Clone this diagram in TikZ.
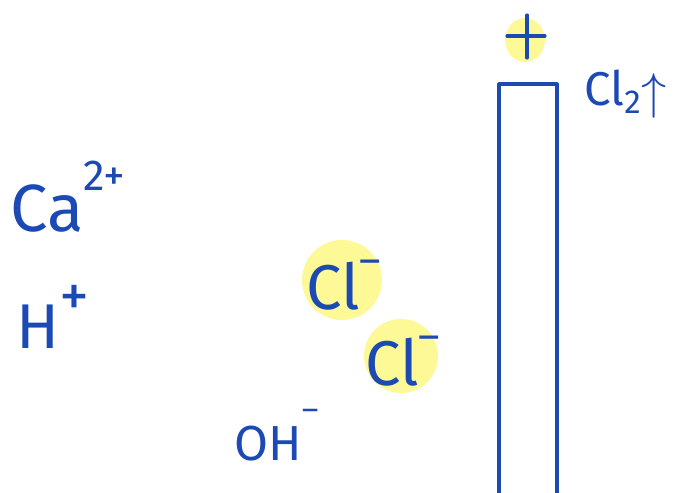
\documentclass[tikz,border=0pt]{standalone}
\usepackage{fontspec}
\setmainfont{Fira Sans}
\usetikzlibrary{positioning}
\definecolor{inkblue}{RGB}{28,74,180}
\definecolor{hilite}{RGB}{252,249,150}
\newcommand{\hoch}[3][0.65]{\raisebox{#2}{\scalebox{#1}{#3}}}
\tikzset{
  ion/.style={text=inkblue, inner sep=0pt},
  glow/.style={fill=hilite, draw=none},
  pen/.style={draw=inkblue, line width=1.8pt, line cap=round, line join=round}
}

\begin{document}
\begin{tikzpicture}[x=0.02cm, y=-0.02cm]
\useasboundingbox (0,0) rectangle (676,493);

% Electrodo (ánodo)
\draw[pen] (499,493) -- (499,84) -- (557,84) -- (557,493);
\fill[glow] (525,40) ellipse (20 and 22);
\coordinate (pl) at (507,36);
\coordinate (pr) at (545,36);
\coordinate (pt) at (527,15);
\coordinate (pb) at (527,58);
\draw[pen] (pl) -- (pr);
\draw[pen] (pt) -- (pb);
\node[ion, anchor=base west, font=\fontsize{27}{30}\selectfont] (gas) at (584,106) {Cl\textsubscript{2}\hoch[1.15]{-0.05em}{$\uparrow$}};

% Cationes
\node[ion, anchor=base west, font=\fontsize{38}{42}\selectfont] (ca) at (10,232) {Ca\hoch{0.62em}{2+}};
\node[ion, anchor=base west, font=\fontsize{36}{40}\selectfont] (h) at (16,348) {H\hoch[0.95]{0.5em}{+}};

% Aniones
\fill[glow] (342,280) circle (40);
\fill[glow] (401,356) circle (37);
\node[ion, anchor=base west, font=\fontsize{36}{40}\selectfont] (cla) at (306,309) {Cl\hoch{0.55em}{–}};
\node[ion, anchor=base west, font=\fontsize{36}{40}\selectfont] (clb) at (365,385) {Cl\hoch{0.55em}{–}};
\node[ion, anchor=base west, font=\fontsize{28}{32}\selectfont] (oh) at (234,460) {OH\hoch{0.8em}{–}};
\end{tikzpicture}
\end{document}
